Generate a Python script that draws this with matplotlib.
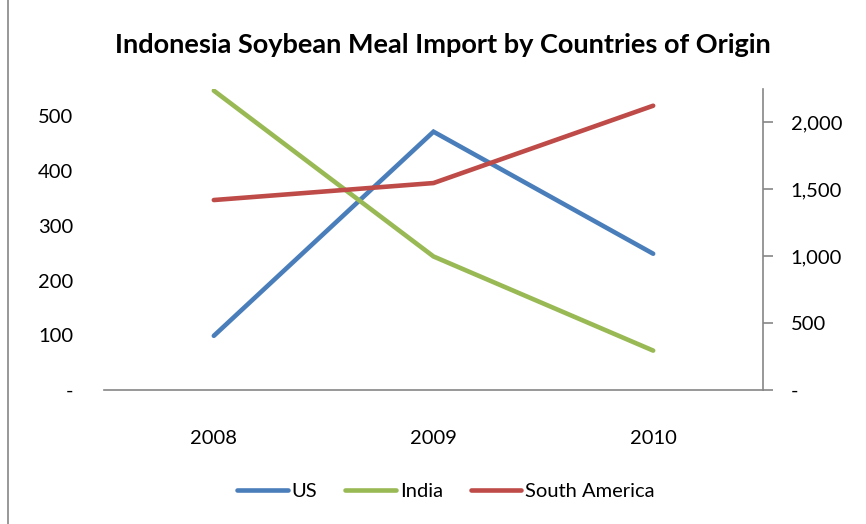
import matplotlib
matplotlib.use("Agg")
import matplotlib.pyplot as plt
from matplotlib.lines import Line2D
from matplotlib.ticker import FuncFormatter

years = ["2008", "2009", "2010"]
us = [99, 472, 249]
india = [547, 244, 72]
south_america = [1420, 1547, 2125]

left_ticks = [0, 100, 200, 300, 400, 500]
right_ticks = [0, 500, 1000, 1500, 2000]

c_us = "#4A7EBB"
c_in = "#98B954"
c_sa = "#BE4B48"
grey = "#868686"

plt.rcParams['font.family'] = ['Lato', 'DejaVu Sans']

fig = plt.figure(figsize=(8.66, 5.24), dpi=100)
ax = fig.add_axes([104/866, 1-390/524, (763-104)/866, (390-89)/524])
ax2 = ax.twinx()

x = list(range(len(years)))
lw = 3.3
l1, = ax.plot(x, us, color=c_us, lw=lw, solid_capstyle='round', solid_joinstyle='miter', label="US")
l2, = ax.plot(x, india, color=c_in, lw=lw, solid_capstyle='round', solid_joinstyle='miter', label="India")
l3, = ax2.plot(x, south_america, color=c_sa, lw=lw, solid_capstyle='round', solid_joinstyle='miter', label="South America")

ax.set_xlim(-0.5, 2.5)
ax.set_ylim(0, 550)
ax2.set_ylim(0, 2250)
ax.set_xticks(x)
ax.set_xticklabels(years)
ax.set_yticks(left_ticks)
ax2.set_yticks(right_ticks)

def fmt(v, p):
    return "-" if v == 0 else f"{int(v):,}"

ax.yaxis.set_major_formatter(FuncFormatter(fmt))
ax2.yaxis.set_major_formatter(FuncFormatter(fmt))

for a in (ax, ax2):
    for s in ["top", "left", "right", "bottom"]:
        a.spines[s].set_visible(False)
ax.spines["bottom"].set_visible(True)
ax.spines["bottom"].set_color(grey)
ax.spines["bottom"].set_linewidth(1.2)
ax2.spines["right"].set_visible(True)
ax2.spines["right"].set_color(grey)
ax2.spines["right"].set_linewidth(1.2)

fs = 14.5
ax.tick_params(axis='x', length=0, pad=29, labelsize=fs, colors='black')
ax.tick_params(axis='y', length=0, pad=22, labelsize=fs)
ax2.tick_params(axis='y', length=7, width=1.2, color=grey, pad=13, labelsize=fs, direction='out')

fig.text(443/866, 1-45/524, "Indonesia Soybean Meal Import by Countries of Origin",
         ha='center', va='center', fontsize=19.5, fontweight='bold')

leg = fig.legend(handles=[l1, l2, l3], loc='center', bbox_to_anchor=(446/866, 1-491/524),
                 ncol=3, frameon=False, fontsize=fs, handlelength=2.5, handletextpad=0.2,
                 columnspacing=1.4)

fig.add_artist(Line2D([8/866, 8/866], [0, 1], transform=fig.transFigure, color=grey, lw=1.2))

fig.savefig("out.png", dpi=100)
